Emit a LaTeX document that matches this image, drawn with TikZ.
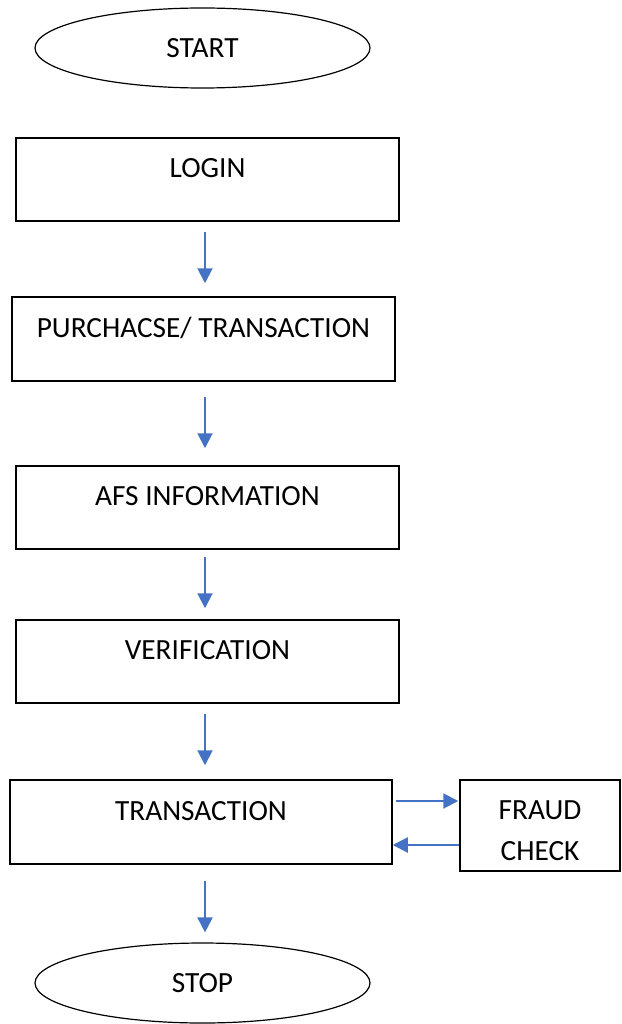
\documentclass[tikz,border=0pt]{standalone}
\usepackage{fontspec}
\setmainfont{Carlito}
\usetikzlibrary{calc, positioning, shapes, arrows.meta}
\definecolor{flowblue}{HTML}{4472C4}
\tikzstyle{terminal}=[ellipse, draw, line width=1.2pt, minimum width=335pt, minimum height=80pt, inner sep=0pt]
\tikzstyle{stepbox}=[rectangle, draw, line width=1.5pt, minimum width=383pt, minimum height=83pt, inner sep=0pt, text height=19pt, text depth=23pt]
\tikzstyle{flow}=[draw=flowblue, line width=2pt, -{Triangle[width=15pt,length=15pt]}, flowblue]

\begin{document}
\begin{tikzpicture}[x=1pt, y=-1pt, font=\fontsize{29.3}{41}\selectfont]
		\useasboundingbox (0,0) rectangle (621,1024);
		\node[terminal] (start) at (202.5,48) {START};
		\node[stepbox] (login) at (207.5,179.5) {LOGIN};
		\node[stepbox, minimum height=84pt] (purchase) at (203.5,339) {PURCHACSE/ TRANSACTION};
		\node[stepbox] (afs) at (207.5,507.5) {AFS INFORMATION};
		\node[stepbox] (verify) at (207.5,661.5) {VERIFICATION};
		\node[stepbox, minimum width=382pt, minimum height=84pt] (trans) at (201,822) {TRANSACTION};
		\node[rectangle, draw, line width=1.5pt, minimum width=160pt, minimum height=91pt, inner sep=0pt] (fraud) at (540,825.5) {\raisebox{-6pt}[\height][\depth]{\begin{tabular}{@{}c@{}}FRAUD\\CHECK\end{tabular}}};
		\node[terminal] (stop) at (202.5,983) {STOP};
		\coordinate (axis) at (205,0);
		% main flow
		\foreach \a/\b/\s/\e in {login/purchase/10/13, purchase/afs/15/17, afs/verify/7/11, verify/trans/10/14, trans/stop/16/10}
			\draw[flow, shorten <=\s pt, shorten >=\e pt] (\a.south -| axis) -- (\b.north -| axis);
		% fraud check loop
		\draw[flow, shorten <=3pt, shorten >=1pt] ([yshift=21pt]trans.east) -- ([yshift=21pt]trans.east -| fraud.west);
		\draw[flow] ([yshift=-23pt]trans.east -| fraud.west) -- ([yshift=-23pt]trans.east);
	\end{tikzpicture}
\end{document}
